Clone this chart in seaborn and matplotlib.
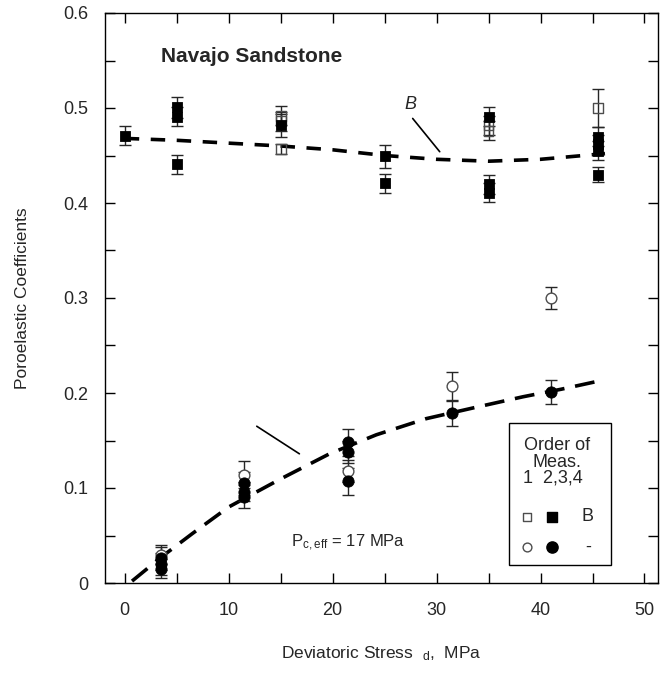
import matplotlib
matplotlib.use("Agg")
import matplotlib.pyplot as plt
from matplotlib.patches import Rectangle
from matplotlib.ticker import MultipleLocator, FuncFormatter
import seaborn as sns

# B (squares): first measurement open, repeat measurements filled
b_open_x = [15, 15, 15, 35, 35, 45.5]
b_open_y = [0.492, 0.486, 0.457, 0.482, 0.476, 0.500]
b_open_err = [0.010, 0.010, 0.005, 0.010, 0.010, 0.020]

b_fill_x = [0, 5, 5, 5, 15, 25, 25, 35, 35, 35, 45.5, 45.5, 45.5, 45.5]
b_fill_y = [0.471, 0.501, 0.491, 0.441, 0.482, 0.449, 0.421, 0.491, 0.420, 0.411,
            0.470, 0.462, 0.455, 0.430]
b_fill_err = [0.010, 0.011, 0.010, 0.010, 0.012, 0.012, 0.010, 0.010, 0.010, 0.010,
              0.010, 0.010, 0.010, 0.008]

# second coefficient (circles)
c_open_x = [3.5, 11.5, 21.5, 31.5, 41]
c_open_y = [0.030, 0.114, 0.118, 0.207, 0.300]
c_open_err = [0.010, 0.014, 0.012, 0.015, 0.012]

c_fill_x = [3.5, 3.5, 3.5, 11.5, 11.5, 11.5, 21.5, 21.5, 21.5, 31.5, 41]
c_fill_y = [0.026, 0.020, 0.015, 0.105, 0.096, 0.091, 0.148, 0.138, 0.107, 0.179, 0.201]
c_fill_err = [0.012, 0.012, 0.010, 0.012, 0.010, 0.012, 0.014, 0.012, 0.014, 0.014, 0.013]

# fitted trends
b_fit_x = [0, 5, 10, 15, 20, 25, 30, 35, 40, 46.2]
b_fit_y = [0.468, 0.466, 0.463, 0.460, 0.456, 0.450, 0.446, 0.444, 0.446, 0.452]
c_fit_x = [0.7, 3.6, 6.5, 10, 14.9, 19.7, 24.2, 29, 33.8, 38.3, 42, 46.2]
c_fit_y = [0.002, 0.028, 0.052, 0.080, 0.109, 0.136, 0.156, 0.173, 0.185, 0.196, 0.204, 0.214]

sns.set_style("ticks")
plt.rcParams["font.family"] = ["Liberation Sans", "DejaVu Sans"]
plt.rcParams["mathtext.default"] = "regular"

fig = plt.figure(figsize=(6.62, 6.77), dpi=100)
ax = fig.add_axes([105 / 662, 94 / 677, 553 / 662, 570 / 677])

# dashed fits
sns.lineplot(x=b_fit_x, y=b_fit_y, ax=ax, color="black", lw=2.6,
             linestyle=(0, (4, 3.2)), zorder=1)
sns.lineplot(x=c_fit_x, y=c_fit_y, ax=ax, color="black", lw=2.6,
             linestyle=(0, (5.5, 3)), zorder=1)

# error bars
for xs, ys, es in [(b_open_x, b_open_y, b_open_err), (b_fill_x, b_fill_y, b_fill_err),
                   (c_open_x, c_open_y, c_open_err), (c_fill_x, c_fill_y, c_fill_err)]:
    ax.errorbar(xs, ys, yerr=es, fmt="none", ecolor="0.15", elinewidth=1,
                capsize=4, capthick=1, zorder=2)

# markers
sns.scatterplot(x=b_open_x, y=b_open_y, ax=ax, marker="s", s=50,
                facecolor="none", edgecolor="0.3", linewidth=1, zorder=3)
sns.scatterplot(x=b_fill_x, y=b_fill_y, ax=ax, marker="s", s=55,
                color="black", edgecolor="black", zorder=4)
sns.scatterplot(x=c_open_x, y=c_open_y, ax=ax, marker="o", s=60,
                facecolor="white", edgecolor="0.3", linewidth=1, zorder=3)
sns.scatterplot(x=c_fill_x, y=c_fill_y, ax=ax, marker="o", s=65,
                color="black", edgecolor="black", zorder=4)

ax.set_xlim(-1.9, 51.3)
ax.set_ylim(0, 0.6)
ax.xaxis.set_major_locator(MultipleLocator(10))
ax.xaxis.set_minor_locator(MultipleLocator(5))
ax.yaxis.set_major_locator(MultipleLocator(0.1))
ax.yaxis.set_minor_locator(MultipleLocator(0.05))
ax.yaxis.set_major_formatter(FuncFormatter(lambda v, p: f"{v:g}"))
ax.tick_params(which="both", direction="in", top=True, right=True,
               length=7, width=1, color="black")
ax.tick_params(axis="x", which="major", labelsize=13, pad=14)
ax.tick_params(axis="y", which="major", labelsize=13, pad=12)
for sp in ax.spines.values():
    sp.set_linewidth(1)
    sp.set_color("black")

ax.set_ylabel("Poroelastic Coefficients", fontsize=12.5, labelpad=24)
ax.set_xlabel("Deviatoric Stress  $_{d}$,  MPa", fontsize=12.5, labelpad=18)

# annotations
ax.text(3.5, 0.554, "Navajo Sandstone", fontsize=15, fontweight="bold", va="center")
ax.text(27.5, 0.504, "B", fontsize=13, style="italic", ha="center", va="center")
ax.plot([27.7, 30.3], [0.489, 0.454], color="black", lw=1.2)
ax.plot([12.7, 16.8], [0.165, 0.136], color="black", lw=1.2)
ax.text(16.0, 0.042, "P$_{c,eff}$ = 17 MPa", fontsize=12, va="center")

# hand-drawn legend box
ax.add_patch(Rectangle((0.731, 0.032), 0.184, 0.249, transform=ax.transAxes,
                       fill=False, lw=1, color="black", zorder=5))
ax.text(0.817, 0.242, "Order of", transform=ax.transAxes, fontsize=13, ha="center", va="center")
ax.text(0.817, 0.212, "Meas.", transform=ax.transAxes, fontsize=13, ha="center", va="center")
ax.text(0.810, 0.184, "1  2,3,4", transform=ax.transAxes, fontsize=13, ha="center", va="center")
ax.scatter([0.763], [0.116], transform=ax.transAxes, marker="s", s=35,
           facecolor="none", edgecolor="0.3", lw=1)
ax.scatter([0.808], [0.116], transform=ax.transAxes, marker="s", s=55, color="black")
ax.scatter([0.763], [0.063], transform=ax.transAxes, marker="o", s=40,
           facecolor="white", edgecolor="0.3", lw=1)
ax.scatter([0.808], [0.063], transform=ax.transAxes, marker="o", s=65, color="black")
ax.text(0.873, 0.116, "B", transform=ax.transAxes, fontsize=13, ha="center", va="center")
ax.text(0.873, 0.063, "-", transform=ax.transAxes, fontsize=13, ha="center", va="center")

fig.savefig("out.png", dpi=100)
